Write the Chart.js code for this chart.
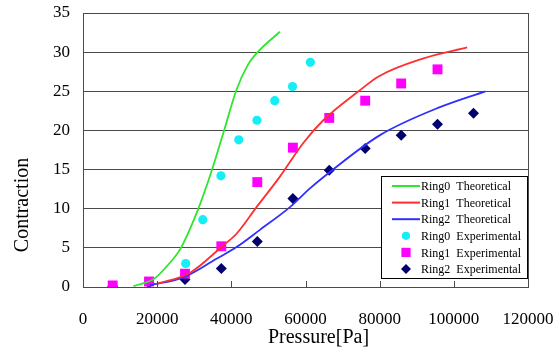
<!DOCTYPE html>
<html>
<head>
<meta charset="utf-8">
<script src="https://cdn.jsdelivr.net/npm/chart.js@4"></script>
<style>
  html, body { margin: 0; padding: 0; background: #fff; }
  #wrap { width: 560px; height: 352px; }
</style>
</head>
<body>
<div id="wrap"><canvas id="c" width="560" height="352"></canvas></div>
<script>
// Theoretical curves
const ring0TheoP = [13600, 19300, 22500, 26300, 30600, 34600, 37800, 41400, 44500, 47300, 53100]
const ring0Theo  = [0.1, 1.1, 2.6, 4.9, 9.4, 14.7, 19.6, 25.2, 28.4, 30.1, 32.6]
const ring1TheoP = [19800, 28800, 37800, 41400, 46800, 53100, 59400, 64800, 74300, 79700, 91800, 103600]
const ring1Theo  = [0.4, 1.8, 5.3, 6.8, 10.2, 14.1, 18.4, 21.3, 25.0, 26.9, 29.2, 30.6]
const ring2TheoP = [18000, 27400, 36000, 41400, 47700, 55800, 61200, 66600, 80100, 96400, 108500]
const ring2Theo  = [0.2, 1.3, 3.6, 5.1, 7.3, 10.2, 12.6, 14.7, 19.4, 23.0, 25.0]

// Experimental points
const ring0ExpP = [27700, 32300, 37200, 42000, 46900, 51700, 56500, 61300]
const ring0Exp  = [3.0, 8.6, 14.2, 18.8, 21.3, 23.8, 25.6, 28.7]
const expP      = [8000, 17800, 27500, 37300, 47000, 56600, 66400, 76100, 85800, 95600, 105300]
const ring1Exp  = [0.2, 0.7, 1.7, 5.2, 13.4, 17.8, 21.6, 23.8, 26.0, 27.8]
const ring2Exp  = [0.1, 0.5, 0.95, 2.35, 5.8, 11.3, 14.9, 17.7, 19.4, 20.8, 22.2]

const X_TITLE = 'Pressure[Pa]'
const Y_TITLE = 'Contraction'

const SERIF = 'Liberation Serif, Times New Roman, serif'
const GRID = '#4a4a4a'

const pts = (xs, ys) => ys.map((y, i) => ({ x: xs[i], y }))

const theo = (label, xs, ys, color) => ({
  label, data: pts(xs, ys), showLine: true,
  borderColor: color, backgroundColor: color, borderWidth: 1.8,
  pointRadius: 0, cubicInterpolationMode: 'monotone', kind: 'line',
})
const exp = (label, xs, ys, color, style, r) => ({
  label, data: pts(xs, ys), showLine: false,
  backgroundColor: color, borderColor: color, borderWidth: 0,
  pointStyle: style, pointRadius: r, kind: 'point',
})

// frame, inner x ticks, axis titles and the boxed legend
const decor = {
  id: 'decor',
  afterDraw(chart) {
    const { ctx, chartArea: a, scales } = chart
    ctx.save()
    ctx.strokeStyle = GRID
    ctx.lineWidth = 1
    ctx.strokeRect(a.left + 0.5, a.top + 0.5, a.right - a.left, a.bottom - a.top)
    scales.x.ticks.forEach(t => {
      const px = Math.round(scales.x.getPixelForValue(t.value)) + 0.5
      ctx.beginPath(); ctx.moveTo(px, a.bottom); ctx.lineTo(px, a.bottom - 6); ctx.stroke()
    })

    ctx.fillStyle = '#000'
    ctx.font = '20px ' + SERIF
    ctx.textAlign = 'center'; ctx.textBaseline = 'middle'
    ctx.fillText(X_TITLE, (a.left + a.right) / 2 + 13, a.bottom + 51)
    ctx.save()
    ctx.translate(a.left - 60, a.bottom - 82)
    ctx.rotate(-Math.PI / 2)
    ctx.fillText(Y_TITLE, 0, 0)
    ctx.restore()

    // legend
    const lx = a.right - 147, ly = a.top + 163, lw = 146, lh = 102
    ctx.fillStyle = '#fff'
    ctx.fillRect(lx, ly, lw, lh)
    ctx.strokeStyle = '#000'
    ctx.strokeRect(lx + 0.5, ly + 0.5, lw, lh)
    ctx.font = '12px ' + SERIF
    ctx.textAlign = 'left'
    chart.data.datasets.forEach((ds, i) => {
      const y = ly + 10 + i * 16.6
      if (ds.kind === 'line') {
        ctx.strokeStyle = ds.borderColor; ctx.lineWidth = 2
        ctx.beginPath(); ctx.moveTo(lx + 11, y); ctx.lineTo(lx + 39, y); ctx.stroke()
      } else {
        ctx.fillStyle = ds.backgroundColor
        Chart.helpers.drawPoint(ctx, { pointStyle: ds.pointStyle, radius: ds.pointRadius - 0.5, borderWidth: 0 }, lx + 25, y)
      }
      ctx.fillStyle = '#000'
      ctx.fillText(ds.label, lx + 40, y + 1)
    })
    ctx.restore()
  },
}

new Chart(document.getElementById('c'), {
  type: 'scatter',
  data: {
    datasets: [
      theo('Ring0  Theoretical', ring0TheoP, ring0Theo, '#2ee62e'),
      theo('Ring1  Theoretical', ring1TheoP, ring1Theo, '#ff2f2f'),
      theo('Ring2  Theoretical', ring2TheoP, ring2Theo, '#2f2fff'),
      exp('Ring0  Experimental', ring0ExpP, ring0Exp, '#16eef5', 'circle', 4.6),
      exp('Ring1  Experimental', expP, ring1Exp, '#ff00ff', 'rect', 7),
      exp('Ring2  Experimental', expP, ring2Exp, '#00006e', 'rectRot', 5.5),
    ],
  },
  options: {
    responsive: false,
    animation: false,
    events: [],
    layout: { padding: { left: 0, top: 13, right: 32, bottom: 0 } },
    plugins: { legend: { display: false }, tooltip: { enabled: false } },
    scales: {
      x: {
        type: 'linear', min: 0, max: 120000,
        grid: { display: false },
        border: { display: false },
        ticks: { stepSize: 20000, padding: 14, color: '#000', font: { family: SERIF, size: 17 },
                 callback: v => String(v) },
        afterFit: s => { s.height = 65; s.paddingLeft = 0; s.paddingRight = 0 },
      },
      y: {
        min: 0, max: 35,
        grid: { color: GRID, lineWidth: 1, drawTicks: false },
        border: { display: false },
        ticks: { stepSize: 5, padding: 13, color: '#000', font: { family: SERIF, size: 17 } },
        afterFit: s => { s.width = 83; s.paddingTop = 0; s.paddingBottom = 0 },
      },
    },
  },
  plugins: [decor],
})
</script>
</body>
</html>
